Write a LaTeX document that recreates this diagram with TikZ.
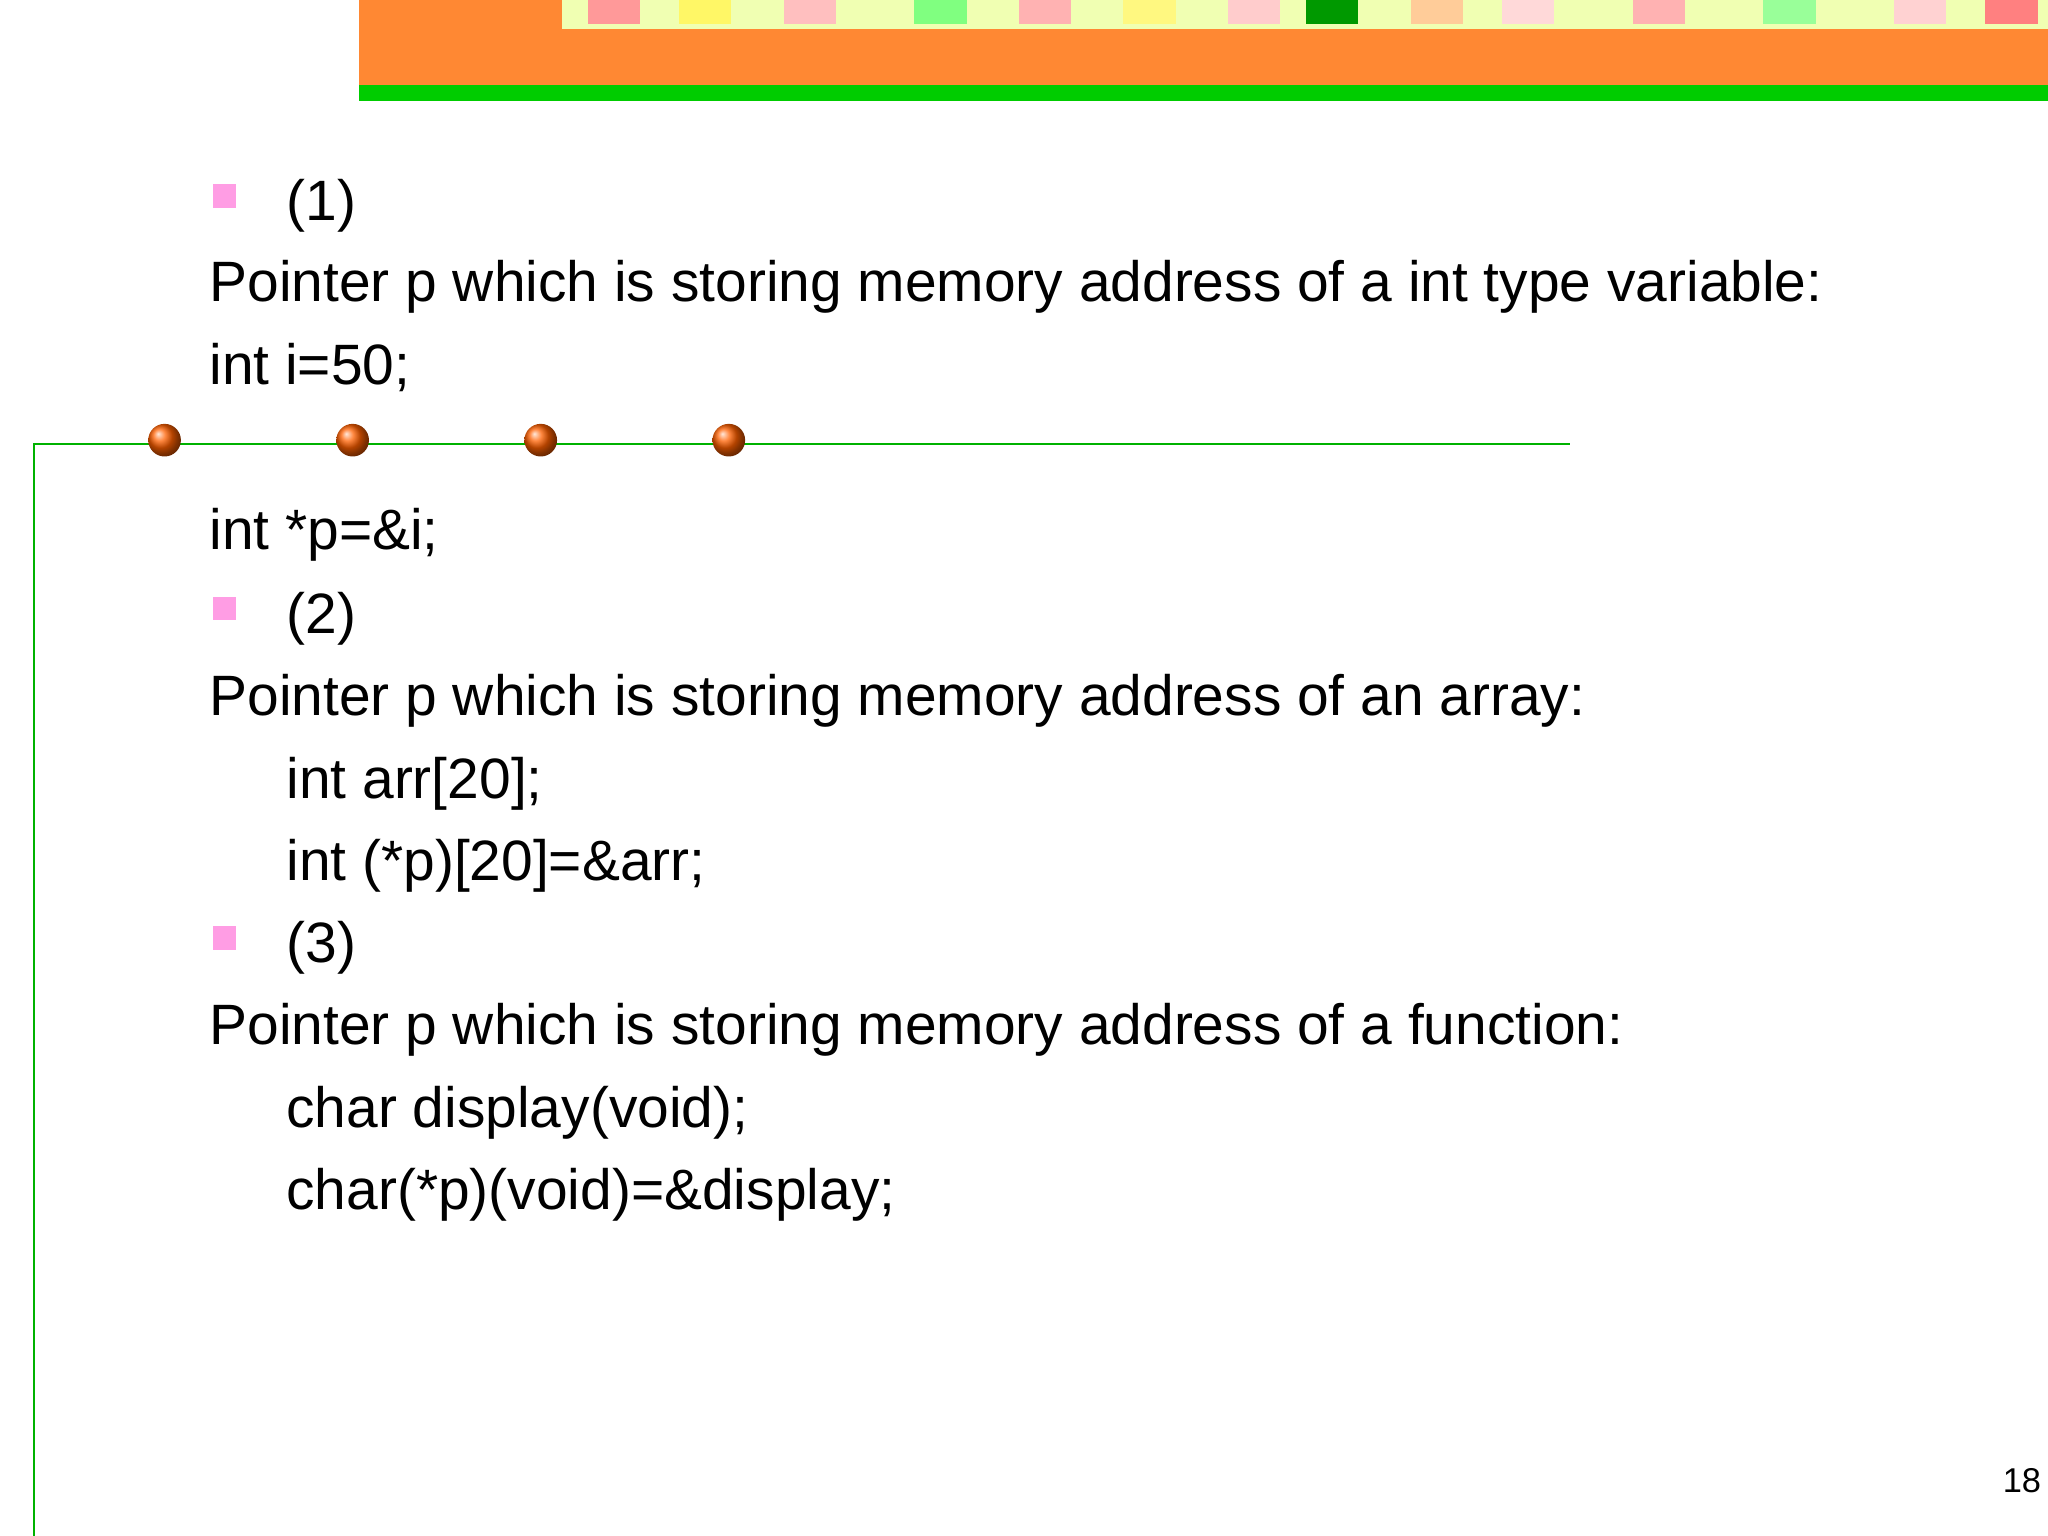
\documentclass[tikz,border=0pt]{standalone}
\usepackage{fontspec}
\setmainfont{Liberation Sans}
\begin{document}
\begin{tikzpicture}[x=0.02cm,y=-0.02cm,
  txt/.style={anchor=base west,inner sep=0pt,font=\fontsize{24.8}{29}\selectfont},
  bul/.style={fill=pink!60!magenta!70,draw=none}]
\definecolor{bannerorange}{RGB}{255,136,51}
\useasboundingbox (0,0) rectangle (1568,1176);
\fill[white] (0,0) rectangle (1568,1176);
\fill[bannerorange] (275,0) rectangle (1568,65);
\fill[green!80!black] (275,65) rectangle (1568,77);
\fill[green!20!yellow!30] (430,0) rectangle (1568,22);
\foreach \x/\c in {450/red!40,520/yellow!60,600/pink,700/green!50,780/red!30,860/yellow!50,940/pink!80,1000/green!60!black,1080/orange!40,1150/pink!60,1250/red!30,1350/green!40,1450/pink!70,1520/red!50}
  \fill[\c] (\x,0) rectangle (\x+40,18);
\draw[green!70!black,line width=0.8pt] (1202,340) -- (26,340) -- (26,1176);
\foreach \x/\n in {126/d1,270/d2,414/d3,558/d4}
  \node[circle,inner sep=0pt,minimum size=0.5cm,shading=ball,ball color=orange!75!red] (\n) at (\x,337) {};
\foreach \y/\n in {150/b1,466/b2,718/b3}
  \fill[bul] (163,\y-9) rectangle (181,\y+9);
\node[txt] (t1) at (219,169) {(1)};
\node[txt] (t2) at (160,231) {Pointer p which is storing memory address of a int type variable:};
\node[txt] (t3) at (160,294) {int i=50;};
\node[txt] (t4) at (160,421) {int *p=\&i;};
\node[txt] (t5) at (219,485) {(2)};
\node[txt] (t6) at (160,548) {Pointer p which is storing memory address of an array:};
\node[txt] (t7) at (219,611) {int arr[20];};
\node[txt] (t8) at (219,674) {int (*p)[20]=\&arr;};
\node[txt] (t9) at (219,737) {(3)};
\node[txt] (t10) at (160,800) {Pointer p which is storing memory address of a function:};
\node[txt] (t11) at (219,863) {char display(void);};
\node[txt] (t12) at (219,926) {char(*p)(void)=\&display;};
\node[anchor=base west,inner sep=0pt,font=\fontsize{15}{17}\selectfont] (pg) at (1533,1143) {18};
\end{tikzpicture}
\end{document}
